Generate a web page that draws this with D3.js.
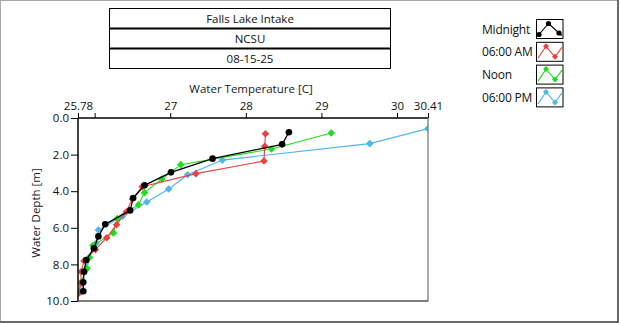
<!DOCTYPE html>
<html>
<head>
<meta charset="utf-8">
<script src="https://cdn.jsdelivr.net/npm/d3@7/dist/d3.min.js"></script>
<style>
  html, body { margin: 0; padding: 0; background: #fff; }
  svg { display: block; font-family: "Open Sans", "Noto Sans", sans-serif; }
</style>
</head>
<body>
<svg id="chart" width="620" height="324"></svg>
<script>
// Header lines
const headerLines = ["Falls Lake Intake", "NCSU", "08-15-25"];

// Series names and colours
const seriesNames = ["Midnight", "06:00 AM", "Noon", "06:00 PM"];
const seriesColors = ["#000000", "#e8413f", "#1fdc1f", "#4db6ea"];

// Midnight profile
const tempMidnight  = [28.57, 28.48, 27.56, 27.01, 26.66, 26.51, 26.47, 26.14, 26.05, 25.99, 25.89, 25.86, 25.85, 25.85];
const depthMidnight = [0.78, 1.44, 2.22, 2.97, 3.68, 4.37, 5.05, 5.81, 6.47, 7.12, 7.76, 8.40, 8.98, 9.47];

// 06:00 AM profile
const temp0600  = [28.26, 28.25, 28.24, 27.34, 26.63, 26.50, 26.42, 26.29, 26.16, 26.01, 25.86, 25.82, 25.82, 25.79];
const depth0600 = [0.86, 1.55, 2.35, 3.04, 3.76, 4.42, 5.12, 5.83, 6.54, 7.19, 7.81, 8.40, 9.00, 9.58];

// Noon profile
const tempNoon  = [29.13, 28.34, 27.14, 26.89, 26.66, 26.58, 26.30, 26.25, 25.98, 25.93, 25.90, 25.81, 25.78];
const depthNoon = [0.82, 1.69, 2.55, 3.33, 4.08, 4.74, 5.50, 6.28, 6.96, 7.62, 8.23, 9.00, 9.50];

// 06:00 PM profile
const temp1800  = [30.41, 29.64, 27.69, 27.23, 26.98, 26.69, 26.37, 26.05, 26.02, 25.93, 25.87, 25.84, 25.82];
const depth1800 = [0.58, 1.40, 2.30, 3.10, 3.88, 4.59, 5.37, 6.12, 6.85, 7.61, 8.30, 8.98, 9.50];

// Axis ticks
const xTicks = [25.78, 26, 27, 28, 29, 30, 30.41];
const xTickLabels = ["25.78", "", "27", "28", "29", "30", "30.41"];
const yTicks = [0, 2, 4, 6, 8, 10];

const svg = d3.select("#chart");

// Outer panel frame
svg.append("rect").attr("x", 0.5).attr("y", 0.5).attr("width", 617).attr("height", 321)
  .attr("fill", "none").attr("stroke", "#a8a8a8");
svg.append("line").attr("x1", 618).attr("x2", 618).attr("y1", 0).attr("y2", 323)
  .attr("stroke", "#6a6a6a").attr("stroke-width", 2);
svg.append("line").attr("x1", 0).attr("x2", 619).attr("y1", 322).attr("y2", 322)
  .attr("stroke", "#6a6a6a").attr("stroke-width", 2);

// Header table
const hdr = { x: 109.5, y: 8.5, w: 281, rowH: 20 };
headerLines.forEach((t, i) => {
  svg.append("rect").attr("x", hdr.x).attr("y", hdr.y + i * hdr.rowH)
    .attr("width", hdr.w).attr("height", hdr.rowH)
    .attr("fill", "#fff").attr("stroke", "#000").attr("stroke-width", 1);
  svg.append("text").attr("x", hdr.x + hdr.w / 2).attr("y", hdr.y + i * hdr.rowH + hdr.rowH / 2 + 4)
    .attr("text-anchor", "middle").attr("font-size", 11.5).attr("fill", "#111").text(t);
});
// heavier separators between rows
[1, 2].forEach(i => {
  svg.append("line").attr("x1", hdr.x).attr("x2", hdr.x + hdr.w)
    .attr("y1", hdr.y + i * hdr.rowH).attr("y2", hdr.y + i * hdr.rowH)
    .attr("stroke", "#000").attr("stroke-width", 2);
});

// Plot area
const plot = { left: 78, right: 428, top: 118, bottom: 301 };
const x = d3.scaleLinear().domain([25.78, 30.41]).range([plot.left, plot.right]);
const y = d3.scaleLinear().domain([0, 10]).range([plot.top, plot.bottom]);

svg.append("defs").append("clipPath").attr("id", "plotClip")
  .append("rect").attr("x", plot.left).attr("y", plot.top)
  .attr("width", plot.right - plot.left).attr("height", plot.bottom - plot.top);

// Top axis (temperature)
const xAxis = d3.axisTop(x).tickValues(xTicks)
  .tickFormat((d, i) => xTickLabels[i]).tickSize(5).tickPadding(3);
const gx = svg.append("g").attr("transform", `translate(0,${plot.top})`).call(xAxis);
gx.select(".domain").remove();
gx.selectAll(".tick line").attr("stroke", "#000");
gx.selectAll(".tick text").attr("font-size", 11.5).attr("fill", "#111")
  .attr("font-family", "'Open Sans', 'Noto Sans', sans-serif");

// Left axis (depth)
const yAxis = d3.axisLeft(y).tickValues(yTicks).tickFormat(d3.format(".1f")).tickSize(7).tickPadding(2);
const gy = svg.append("g").attr("transform", `translate(${plot.left},0)`).call(yAxis);
gy.select(".domain").remove();
gy.selectAll(".tick line").attr("stroke", "#000");
gy.selectAll(".tick text").attr("font-size", 11.5).attr("fill", "#111")
  .attr("font-family", "'Open Sans', 'Noto Sans', sans-serif");

// Axis titles
svg.append("text").attr("x", 251).attr("y", 93).attr("text-anchor", "middle")
  .attr("font-size", 11.5).attr("fill", "#1a1a1a").text("Water Temperature [C]");
svg.append("text").attr("transform", "translate(40,213) rotate(-90)").attr("text-anchor", "middle")
  .attr("font-size", 11.5).attr("fill", "#1a1a1a").text("Water Depth [m]");

// Plot background
svg.append("rect").attr("x", plot.left).attr("y", plot.top)
  .attr("width", plot.right - plot.left).attr("height", plot.bottom - plot.top)
  .attr("fill", "#fff");

const series = [
  { temps: tempMidnight, depths: depthMidnight, marker: "circle" },
  { temps: temp0600, depths: depth0600, marker: "diamond" },
  { temps: tempNoon, depths: depthNoon, marker: "diamond" },
  { temps: temp1800, depths: depth1800, marker: "diamond" }
];

const line = d3.line().x(d => x(d.t)).y(d => y(d.d));
const diamond = (cx, cy, r) => `M${cx},${cy - r}L${cx + r},${cy}L${cx},${cy + r}L${cx - r},${cy}Z`;

const gPlot = svg.append("g").attr("clip-path", "url(#plotClip)");
// draw later series first so midnight sits on top
[3, 2, 1, 0].forEach(si => {
  const s = series[si];
  const pts = s.temps.map((t, i) => ({ t, d: s.depths[i] }));
  const g = gPlot.append("g");
  g.append("path").datum(pts).attr("d", line).attr("fill", "none")
    .attr("stroke", seriesColors[si]).attr("stroke-width", si === 0 ? 1.3 : 1.1);
  if (s.marker === "circle") {
    g.selectAll("circle").data(pts).join("circle")
      .attr("cx", d => x(d.t)).attr("cy", d => y(d.d)).attr("r", 3.3)
      .attr("fill", seriesColors[si]);
  } else {
    g.selectAll("path.m").data(pts).join("path").attr("class", "m")
      .attr("d", d => diamond(x(d.t), y(d.d), 3.8))
      .attr("fill", seriesColors[si]);
  }
});

// Plot frame: dark top/left, grey bottom/right
svg.append("line").attr("x1", plot.left).attr("x2", plot.right).attr("y1", plot.top).attr("y2", plot.top)
  .attr("stroke", "#000").attr("stroke-width", 1.5);
svg.append("line").attr("x1", plot.left).attr("x2", plot.left).attr("y1", plot.top).attr("y2", plot.bottom)
  .attr("stroke", "#000").attr("stroke-width", 1.5);
svg.append("line").attr("x1", plot.right).attr("x2", plot.right).attr("y1", plot.top).attr("y2", plot.bottom + 0.5)
  .attr("stroke", "#7a7a7a").attr("stroke-width", 1.3);
svg.append("line").attr("x1", plot.left).attr("x2", plot.right).attr("y1", plot.bottom).attr("y2", plot.bottom)
  .attr("stroke", "#505050").attr("stroke-width", 1.3);

// Legend
const leg = { textX: 482, boxX: 536.5, boxW: 26.5, boxH: 19, top: 19.5, step: 22.8 };
seriesNames.forEach((name, i) => {
  const by = leg.top + i * leg.step;
  svg.append("text").attr("x", leg.textX).attr("y", by + leg.boxH / 2 + 4.5)
    .attr("font-size", 12).attr("letter-spacing", -0.2).attr("fill", "#111").text(name);
  const g = svg.append("g");
  g.append("rect").attr("x", leg.boxX).attr("y", by).attr("width", leg.boxW).attr("height", leg.boxH)
    .attr("fill", "#fff").attr("stroke", "#000").attr("stroke-width", 1);
  const bx = leg.boxX;
  if (i === 0) {
    const p = [[bx + 2.5, by + 15], [bx + 12, by + 4], [bx + 22.5, by + 13.5]];
    g.append("path").attr("d", d3.line()([[bx + 1, by + 17], ...p, [bx + 25.5, by + 16]]))
      .attr("fill", "none").attr("stroke", "#000").attr("stroke-width", 1.1);
    p.forEach(q => g.append("circle").attr("cx", q[0]).attr("cy", q[1]).attr("r", 2.6).attr("fill", "#000"));
  } else {
    const p = [[bx + 9.5, by + 4], [bx + 18.5, by + 14.5]];
    g.append("path").attr("d", d3.line()([[bx + 1.5, by + 16], ...p, [bx + 25.5, by + 5]]))
      .attr("fill", "none").attr("stroke", seriesColors[i]).attr("stroke-width", 1.1);
    p.forEach(q => g.append("path").attr("d", diamond(q[0], q[1], 3)).attr("fill", seriesColors[i]));
  }
});
</script>
</body>
</html>
